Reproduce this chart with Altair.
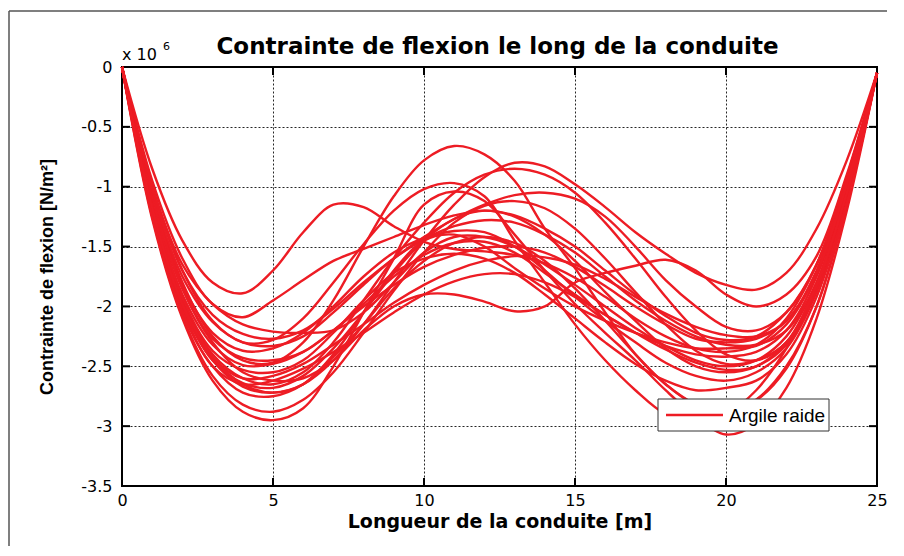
import altair as alt
import pandas as pd

# ---- data (stress in 10^6 N/m²) ----
x_m = [0, 1, 2, 3, 4, 5, 6, 7, 8, 9, 10, 11, 12, 13, 14, 15, 16, 17, 18, 19, 20, 21, 22, 23, 24, 25]

curve_a = [0, -1.05, -1.8, -2.25, -2.45, -2.47, -2.3, -1.95, -1.5, -1.08, -0.78, -0.66, -0.73, -0.95, -1.35, -1.68, -2.05, -2.4, -2.65, -2.82, -2.9, -2.78, -2.5, -2.0, -1.15, -0.05]
curve_b = [0, -1.2, -2.0, -2.45, -2.67, -2.72, -2.65, -2.45, -2.15, -1.8, -1.45, -1.15, -0.92, -0.8, -0.83, -0.98, -1.17, -1.38, -1.56, -1.72, -1.82, -1.86, -1.72, -1.35, -0.78, -0.05]
curve_c = [0, -1.1, -1.85, -2.3, -2.55, -2.62, -2.6, -2.45, -2.2, -2.0, -1.9, -1.9, -1.96, -2.04, -2.0, -1.8, -1.72, -1.66, -1.61, -1.7, -1.9, -2.0, -1.9, -1.58, -0.9, -0.05]
curve_d = [0, -1.15, -1.95, -2.4, -2.6, -2.65, -2.55, -2.3, -1.95, -1.6, -1.3, -1.05, -0.9, -0.85, -0.9, -1.05, -1.3, -1.6, -1.92, -2.2, -2.4, -2.45, -2.3, -1.85, -1.05, -0.05]
curve_e = [0, -1.0, -1.7, -2.12, -2.3, -2.28, -2.1, -1.8, -1.48, -1.2, -1.02, -0.97, -1.08, -1.45, -1.8, -2.15, -2.45, -2.7, -2.9, -2.97, -2.9, -2.7, -2.35, -1.85, -1.1, -0.05]
curve_f = [0, -1.27, -2.1, -2.62, -2.88, -2.95, -2.85, -2.5, -2.05, -1.6, -1.15, -1.04, -1.12, -1.4, -1.7, -1.98, -2.22, -2.45, -2.7, -2.92, -3.07, -2.98, -2.68, -2.1, -1.2, -0.05]
curve_g = [0, -0.85, -1.45, -1.8, -1.89, -1.7, -1.38, -1.15, -1.17, -1.33, -1.46, -1.52, -1.54, -1.57, -1.64, -1.76, -1.92, -2.1, -2.25, -2.35, -2.38, -2.32, -2.1, -1.65, -0.95, -0.05]
curve_h = [0, -0.95, -1.6, -1.98, -2.09, -1.95, -1.78, -1.62, -1.52, -1.42, -1.32, -1.24, -1.2, -1.24, -1.35, -1.5, -1.7, -1.9, -2.08, -2.22, -2.28, -2.25, -2.05, -1.65, -0.95, -0.05]
curve_i = [0, -1.0, -1.65, -1.98, -2.15, -2.21, -2.22, -2.2, -2.05, -1.8, -1.55, -1.42, -1.42, -1.5, -1.65, -1.82, -2.0, -2.18, -2.33, -2.45, -2.5, -2.45, -2.25, -1.8, -1.05, -0.05]
curve_j = [0, -1.0, -1.7, -2.07, -2.23, -2.27, -2.2, -2.02, -1.8, -1.6, -1.42, -1.27, -1.15, -1.07, -1.05, -1.1, -1.25, -1.5, -1.78, -2.0, -2.17, -2.2, -2.05, -1.65, -0.92, -0.05]
curve_k = [0, -1.05, -1.75, -2.13, -2.3, -2.33, -2.25, -2.05, -1.82, -1.6, -1.44, -1.33, -1.28, -1.3, -1.4, -1.55, -1.75, -1.95, -2.12, -2.25, -2.32, -2.32, -2.2, -1.8, -1.0, -0.05]
curve_l = [0, -1.08, -1.82, -2.22, -2.37, -2.35, -2.22, -2.0, -1.75, -1.55, -1.43, -1.37, -1.38, -1.5, -1.7, -1.92, -2.12, -2.3, -2.47, -2.58, -2.62, -2.55, -2.35, -1.88, -1.08, -0.05]
curve_m = [0, -1.1, -1.85, -2.27, -2.43, -2.45, -2.38, -2.2, -1.98, -1.75, -1.57, -1.47, -1.46, -1.55, -1.72, -1.9, -2.07, -2.22, -2.33, -2.4, -2.42, -2.38, -2.2, -1.75, -1.0, -0.05]
curve_n = [0, -1.12, -1.9, -2.32, -2.49, -2.48, -2.38, -2.2, -2.0, -1.82, -1.67, -1.57, -1.51, -1.5, -1.55, -1.67, -1.83, -2.0, -2.15, -2.27, -2.3, -2.27, -2.12, -1.72, -0.98, -0.05]
curve_o = [0, -1.15, -1.93, -2.37, -2.53, -2.55, -2.45, -2.22, -1.95, -1.72, -1.6, -1.56, -1.6, -1.72, -1.9, -2.1, -2.3, -2.48, -2.62, -2.7, -2.68, -2.62, -2.4, -1.92, -1.12, -0.05]
curve_p = [0, -1.17, -1.98, -2.43, -2.6, -2.58, -2.48, -2.32, -2.15, -1.97, -1.82, -1.7, -1.62, -1.58, -1.59, -1.65, -1.77, -1.92, -2.06, -2.17, -2.24, -2.25, -2.12, -1.7, -0.95, -0.05]
curve_q = [0, -1.2, -2.02, -2.5, -2.65, -2.62, -2.52, -2.38, -2.22, -2.05, -1.9, -1.79, -1.73, -1.73, -1.8, -1.92, -2.07, -2.22, -2.36, -2.47, -2.53, -2.5, -2.32, -1.85, -1.05, -0.05]
curve_r = [0, -1.2, -2.0, -2.45, -2.64, -2.68, -2.58, -2.35, -2.05, -1.72, -1.45, -1.27, -1.2, -1.25, -1.4, -1.62, -1.88, -2.12, -2.35, -2.5, -2.55, -2.5, -2.3, -1.82, -1.05, -0.05]
curve_s = [0, -1.22, -2.05, -2.5, -2.72, -2.75, -2.65, -2.42, -2.15, -1.85, -1.62, -1.47, -1.42, -1.47, -1.62, -1.85, -2.12, -2.4, -2.65, -2.82, -2.84, -2.78, -2.52, -2.0, -1.15, -0.05]
curve_t = [0, -1.25, -2.08, -2.58, -2.82, -2.88, -2.78, -2.55, -2.22, -1.87, -1.55, -1.3, -1.16, -1.12, -1.18, -1.35, -1.6, -1.88, -2.15, -2.37, -2.48, -2.45, -2.3, -1.82, -1.05, -0.05]
curve_u = [0, -1.18, -1.98, -2.42, -2.65, -2.72, -2.65, -2.4, -2.05, -1.7, -1.45, -1.4, -1.5, -1.68, -1.85, -2.0, -2.12, -2.22, -2.3, -2.35, -2.35, -2.33, -2.15, -1.72, -0.98, -0.05]

x_ticks = [0, 5, 10, 15, 20, 25]
y_ticks = [0, -0.5, -1, -1.5, -2, -2.5, -3, -3.5]
series_name = "Argile raide"

curves = [curve_a, curve_b, curve_c, curve_d, curve_e, curve_f, curve_g, curve_h, curve_i, curve_j,
          curve_k, curve_l, curve_m, curve_n, curve_o, curve_p, curve_q, curve_r, curve_s, curve_t, curve_u]

rows = []
for i, ys in enumerate(curves):
    for xv, yv in zip(x_m, ys):
        rows.append({"x": xv, "y": yv, "curve": f"c{i:02d}"})
df = pd.DataFrame(rows)

# ---- style ----
W, H = 755, 419
RED = "#ED1C24"
NARROW = "Liberation Sans Narrow, Liberation Sans, Arial Narrow, sans-serif"
X_TITLE = "Longueur de la conduite [m]"
Y_TITLE = "Contrainte de flexion [N/m²]"

xs = alt.Scale(domain=[0, 25], nice=False, zero=False)
ysc = alt.Scale(domain=[-3.5, 0], nice=False, zero=False)

x_axis = alt.Axis(
    values=x_ticks, title=X_TITLE, grid=True, domain=False, ticks=False,
    labelFont="DejaVu Sans", labelFontSize=16, labelColor="black", labelPadding=6,
    labelFlush=False,
    titleFont="DejaVu Sans", titleFontSize=19, titleFontWeight="bold", titleColor="black",
    titleY=41, titleBaseline="alphabetic",
    gridColor="black", gridDash=[2, 2], gridWidth=1, gridOpacity=0.85)
y_axis = alt.Axis(
    values=y_ticks, labelExpr="toString(datum.value)",
    title=Y_TITLE, grid=True, domain=False, ticks=False,
    labelFont="DejaVu Sans", labelFontSize=16, labelColor="black", labelPadding=10,
    labelFlush=False,
    titleFont=NARROW, titleFontSize=18, titleFontWeight="bold", titleColor="black",
    titleX=-75, titleY=H / 2, titleAlign="center", titleBaseline="middle", titleAngle=270,
    gridColor="black", gridDash=[2, 2], gridWidth=1, gridOpacity=0.85)

lines = alt.Chart(df).mark_line(color=RED, strokeWidth=2.4, interpolate="catmull-rom").encode(
    x=alt.X("x:Q", scale=xs, axis=x_axis, title=X_TITLE),
    y=alt.Y("y:Q", scale=ysc, axis=y_axis, title=Y_TITLE),
    detail="curve:N",
)

# inward tick marks on the four sides of the box (same field names as the main layer)
yt = pd.DataFrame({"y": y_ticks[1:-1]})
xt = pd.DataFrame({"x": x_ticks[1:-1]})
tick_l = alt.Chart(yt).mark_rule(color="black", strokeWidth=2).encode(
    y=alt.Y("y:Q", scale=ysc, title=Y_TITLE), x=alt.value(0), x2=alt.value(8))
tick_r = alt.Chart(yt).mark_rule(color="black", strokeWidth=2).encode(
    y=alt.Y("y:Q", scale=ysc, title=Y_TITLE), x=alt.value(W - 8), x2=alt.value(W))
tick_b = alt.Chart(xt).mark_rule(color="black", strokeWidth=2).encode(
    x=alt.X("x:Q", scale=xs, title=X_TITLE), y=alt.value(H - 8), y2=alt.value(H))
tick_t = alt.Chart(xt).mark_rule(color="black", strokeWidth=2).encode(
    x=alt.X("x:Q", scale=xs, title=X_TITLE), y=alt.value(0), y2=alt.value(8))

one = pd.DataFrame({"label": [series_name]})

# "x 10^6" multiplier
mult = alt.Chart(one).mark_text(align="left", baseline="alphabetic", font="DejaVu Sans",
                                fontSize=16, color="black").encode(
    x=alt.value(0), y=alt.value(-7), text=alt.value("x 10"))
mult_exp = alt.Chart(one).mark_text(align="left", baseline="alphabetic", font="DejaVu Sans",
                                    fontSize=11, color="black").encode(
    x=alt.value(41), y=alt.value(-17), text=alt.value("6"))

# legend box
leg_box = alt.Chart(one).mark_rect(fill="white", stroke="#333333", strokeWidth=1).encode(
    x=alt.value(536), x2=alt.value(707), y=alt.value(332), y2=alt.value(364))
leg_line = alt.Chart(one).mark_rule(color=RED, strokeWidth=2.5).encode(
    x=alt.value(544), x2=alt.value(601), y=alt.value(348))
leg_text = alt.Chart(one).mark_text(align="left", baseline="middle", font=NARROW,
                                    fontSize=19, color="black").encode(
    x=alt.value(607), y=alt.value(349), text="label:N")

# chart title drawn as text over the plot centre
title_t = alt.Chart(one).mark_text(align="center", baseline="alphabetic", font="DejaVu Sans",
                                   fontSize=23, fontWeight="bold", color="black").encode(
    x=alt.value(W / 2 - 2), y=alt.value(-13),
    text=alt.value("Contrainte de flexion le long de la conduite"))

# outer figure frame (top and left edges)
frame_top = alt.Chart(one).mark_rule(color="#555555", strokeWidth=1.5).encode(
    x=alt.value(-113), x2=alt.value(W + 12), y=alt.value(-56))
frame_left = alt.Chart(one).mark_rule(color="#555555", strokeWidth=1.5).encode(
    x=alt.value(-113), y=alt.value(-56), y2=alt.value(H + 60))

chart = alt.layer(
    lines, tick_l, tick_r, tick_b, tick_t, mult, mult_exp, leg_box, leg_line, leg_text,
    title_t, frame_top, frame_left,
).properties(
    width=W, height=H,
    padding={"left": 114, "top": 59, "right": 10, "bottom": 60},
    autosize=alt.AutoSizeParams(type="none"),
    background="white",
).configure_view(stroke="black", strokeWidth=2)

chart.save("out.html", embed_options={"renderer": "svg", "actions": False})
